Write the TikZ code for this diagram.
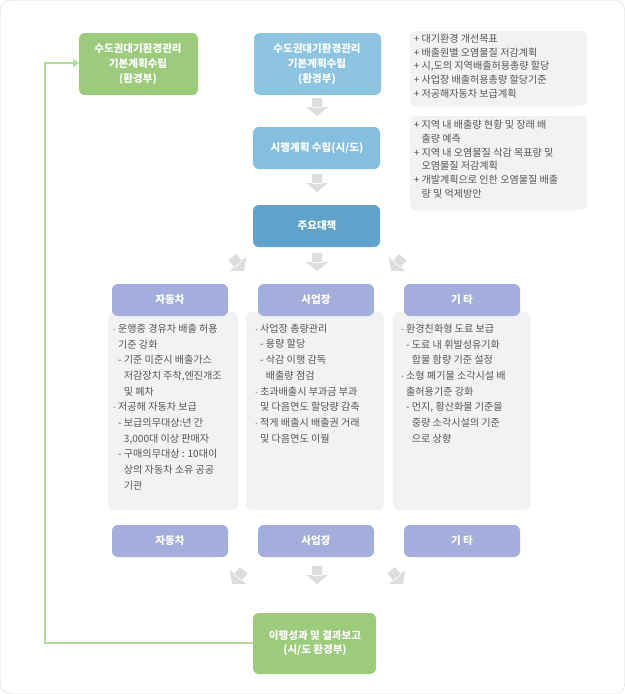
\documentclass[tikz,border=0pt]{standalone}
\usepackage{fontspec}
\setmainfont{Noto Sans CJK KR}
\usetikzlibrary{positioning, arrows.meta}

\definecolor{frameline}{HTML}{D8D8D8}
\definecolor{greenbox}{HTML}{9CCB7C}
\definecolor{bluebox}{HTML}{8CC4E2}
\definecolor{darkblue}{HTML}{5FA3CB}
\definecolor{purplebox}{HTML}{A4AEDD}
\definecolor{notegray}{HTML}{F2F2F2}
\definecolor{arrowgray}{HTML}{DDDDDD}
\definecolor{textgray}{HTML}{555555}
\definecolor{loopgreen}{HTML}{B5DC98}

\tikzset{
  x=0.03cm, y=-0.03cm,
  stagebox/.style={text=white, align=center, font=\fontsize{9}{12.5}\selectfont\bfseries},
  notebox/.style={text=textgray, align=left, inner sep=3pt,
    font=\fontsize{8.6}{11.9}\selectfont, anchor=north west},
  listbox/.style={text=textgray, align=left,
    font=\fontsize{8.6}{13.4}\selectfont, anchor=north west, inner sep=4pt},
  pics/blockarrow/.style={code={
    \fill[arrowgray] (-5,-9) rectangle (5,1) (-11,0) -- (11,0) -- (0,9) -- cycle;}}
}

\begin{document}
\begin{tikzpicture}
  % frame
  \draw[frameline, rounded corners=8pt, fill=white] (0.5,0.5) rectangle (624.5,693.5);
  \useasboundingbox (0,0) rectangle (625,694);

  % upper stages
  \fill[greenbox, rounded corners=5pt] (79,33) rectangle (198,95);
  \node[stagebox] (plangreen) at (138,64) {수도권대기환경관리\\기본계획수립\\(환경부)};
  \fill[bluebox, rounded corners=5pt] (254,33) rectangle (381,95);
  \node[stagebox] (planblue) at (317,64) {수도권대기환경관리\\기본계획수립\\(환경부)};
  \fill[bluebox!85!darkblue, rounded corners=5pt] (253,127) rectangle (380,169);
  \node[stagebox] (localplan) at (317,148) {시행계획 수립(시/도)};
  \fill[darkblue, rounded corners=5pt] (253,205) rectangle (380,247);
  \node[stagebox] (measures) at (317,226) {주요대책};

  % notes
  \fill[notegray, rounded corners=5pt] (410,31) rectangle (587,106);
  \node[notebox] (noteone) at (410,30) {+ 대기환경 개선목표\\+ 배출원별 오염물질 저감계획\\+ 시,도의 지역배출허용총량 할당\\+ 사업장 배출허용총량 할당기준\\+ 저공해자동차 보급계획};
  \fill[notegray, rounded corners=5pt] (410,116) rectangle (587,210);
  \node[notebox] (notetwo) at (410,116) {+ 지역 내 배출량 현황 및 장래 배\\\phantom{+ }출량 예측\\+ 지역 내 오염물질 삭감 목표량 및\\\phantom{+ }오염물질 저감계획\\+ 개발계획으로 인한 오염물질 배출\\\phantom{+ }량 및 억제방안};

  % arrows between stages
  \pic at (317,107) {blockarrow};
  \pic at (317,183) {blockarrow};
  \pic at (317,262) {blockarrow};
  \pic[rotate=40] at (238,264) {blockarrow};
  \pic[rotate=-40] at (397,264) {blockarrow};

  % field lists
  \fill[notegray, rounded corners=5pt] (108,312) rectangle (238,510);
  \fill[notegray, rounded corners=5pt] (246,312) rectangle (384,510);
  \fill[notegray, rounded corners=5pt] (393,312) rectangle (530,510);
  \node[listbox] (carlist) at (108,319) {$\cdot$ 운행중 경유차 배출 허용\\\phantom{$\cdot$ }기준 강화\\\phantom{$\cdot$ }- 기준 미준시 배출가스\\\phantom{$\cdot$ - }저감장치 주착,엔진개조\\\phantom{$\cdot$ - }및 폐차\\$\cdot$ 저공해 자동차 보급\\\phantom{$\cdot$ }- 보급의무대상:년 간\\\phantom{$\cdot$ - }3,000대 이상 판매자\\\phantom{$\cdot$ }- 구매의무대상 : 10대이\\\phantom{$\cdot$ - }상의 자동차 소유 공공\\\phantom{$\cdot$ - }기관};
  \node[listbox] (sitelist) at (250,319) {$\cdot$ 사업장 총량관리\\\phantom{$\cdot$ }- 용량 할당\\\phantom{$\cdot$ }- 삭감 이행 감독\\\phantom{$\cdot$ - }배출량 점검\\$\cdot$ 초과배출시 부과금 부과\\\phantom{$\cdot$ }및 다음연도 할당량 감축\\$\cdot$ 적게 배출시 배출권 거래\\\phantom{$\cdot$ }및 다음연도 이월};
  \node[listbox] (etclist) at (396,319) {$\cdot$ 환경친화형 도료 보급\\\phantom{$\cdot$ }- 도료 내 휘발성유기화\\\phantom{$\cdot$ - }합물 함량 기준 설정\\$\cdot$ 소형 폐기물 소각시설 배\\\phantom{$\cdot$ }출허용기준 강화\\\phantom{$\cdot$ }- 먼지, 황산화물 기준을\\\phantom{$\cdot$ - }중량 소각시설의 기준\\\phantom{$\cdot$ - }으로 상향};

  % field headers
  \foreach \cx/\lbl/\nm in {170/자동차/car, 316/사업장/site, 462/기 타/etc}{
    \fill[purplebox, rounded corners=5pt] (\cx-58,284) rectangle (\cx+58,316);
    \node[stagebox] (\nm top) at (\cx,300) {\lbl};
    \fill[purplebox, rounded corners=5pt] (\cx-58,525) rectangle (\cx+58,557);
    \node[stagebox] (\nm bottom) at (\cx,541) {\lbl};
  }

  % arrows to result
  \pic at (317,575) {blockarrow};
  \pic[rotate=-40] at (238,577) {blockarrow};
  \pic[rotate=40] at (397,577) {blockarrow};

  % result
  \fill[greenbox, rounded corners=5pt] (253,613) rectangle (376,674);
  \node[stagebox] (report) at (315,643) {이행성과 및 결과보고\\(시/도 환경부)};

  % feedback loop
  \coordinate (loopcorner) at (45,643);
  \coordinate (looptop) at (45,63);
  \draw[loopgreen, line width=1.3pt, -{Triangle[length=5pt,width=7pt]}] (report.west -| 253,0) -- (loopcorner) -- (looptop) -- (looptop -| 79,0);
\end{tikzpicture}
\end{document}
